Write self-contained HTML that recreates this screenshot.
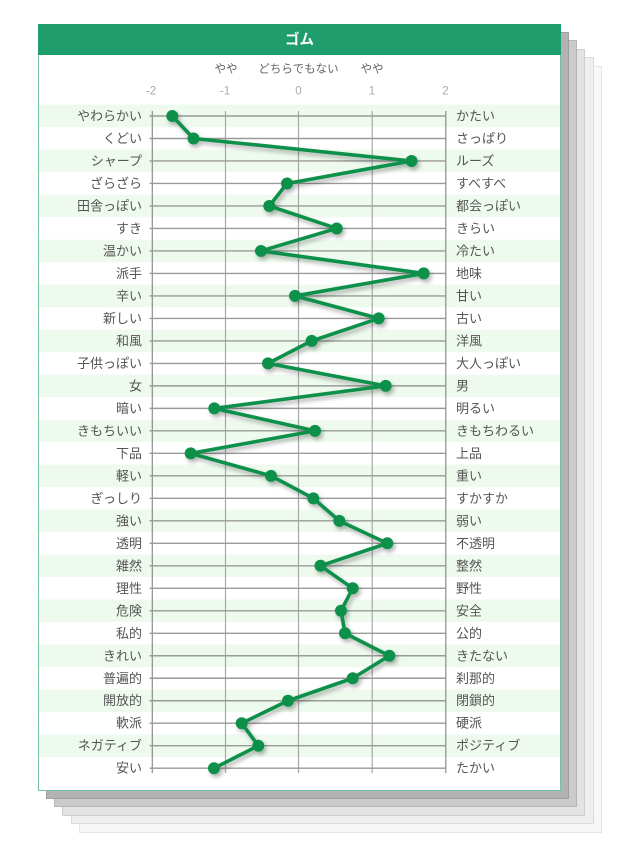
<!DOCTYPE html>
<html><head><meta charset="utf-8"><style>
html,body{margin:0;padding:0;background:#fff;}
svg{display:block;}
text{font-family:"Liberation Sans","Noto Sans CJK JP",sans-serif;}
</style></head><body>
<svg width="640" height="853" viewBox="0 0 640 853" xmlns="http://www.w3.org/2000/svg">
<defs>
<filter id="sh" x="-20%" y="-20%" width="140%" height="140%">
<feDropShadow dx="2" dy="3" stdDeviation="2" flood-color="#000" flood-opacity="0.3"/>
</filter>
</defs>
<rect x="79.5" y="66.5" width="522" height="766" fill="#f7f7f7" stroke="#e6e6e6"/>
<rect x="71.5" y="57.5" width="522" height="766" fill="#efefef" stroke="#dcdcdc"/>
<rect x="62.5" y="49.5" width="522" height="766" fill="#e3e3e3" stroke="#cfcfcf"/>
<rect x="54.5" y="40.5" width="522" height="766" fill="#cbcbcb" stroke="#b5b5b5"/>
<rect x="46.5" y="32.5" width="522" height="766" fill="#b2b2b2" stroke="#9e9e9e"/>
<rect x="38.5" y="24.5" width="522" height="766" fill="#fff" stroke="#72c2a3"/>
<rect x="38" y="24" width="523" height="31" fill="#1f9d6c"/>
<text x="299.5" y="44.5" font-size="14.5" font-weight="bold" fill="#fff" text-anchor="middle">ゴム</text>
<g font-size="11.5" fill="#666" text-anchor="middle">
<text x="226" y="72.5">やや</text>
<text x="298.5" y="72.5">どちらでもない</text>
<text x="372" y="72.5">やや</text>
</g>
<g font-size="11.5" fill="#aaa" text-anchor="middle">
<text x="151" y="94.5">-2</text>
<text x="225" y="94.5">-1</text>
<text x="298.5" y="94.5">0</text>
<text x="372" y="94.5">1</text>
<text x="445.5" y="94.5">2</text>
</g>
<g id="bands" fill="#eefaee"></g>
<g id="grid"></g>
<g id="labels" font-size="13" fill="#555"></g>
<g id="series" filter="url(#sh)"></g>
</svg>
<script>
(function(){
var ns="http://www.w3.org/2000/svg";
var L=["やわらかい","くどい","シャープ","ざらざら","田舎っぽい","すき","温かい","派手","辛い","新しい","和風","子供っぽい","女","暗い","きもちいい","下品","軽い","ぎっしり","強い","透明","雑然","理性","危険","私的","きれい","普遍的","開放的","軟派","ネガティブ","安い"];
var R=["かたい","さっぱり","ルーズ","すべすべ","都会っぽい","きらい","冷たい","地味","甘い","古い","洋風","大人っぽい","男","明るい","きもちわるい","上品","重い","すかすか","弱い","不透明","整然","野性","安全","公的","きたない","刹那的","閉鎖的","硬派","ポジティブ","たかい"];
var X=[172.3,193.5,411.5,287,269.3,336.7,261,423.7,295,378.7,311.7,268,385.7,214.3,315,190.7,271,313.3,339.3,387.3,320.5,352.7,341,345,389.3,352.7,288,241.7,258.3,214];
function el(t,a,p,txt){var e=document.createElementNS(ns,t);for(var k in a)e.setAttribute(k,a[k]);if(txt)e.textContent=txt;document.getElementById(p).appendChild(e);return e;}
var y0=116,dy=22.49;
for(var i=0;i<30;i++){
 var y=y0+i*dy;
 if(i%2==0) el("rect",{x:39,y:(y-dy/2).toFixed(2),width:521,height:dy.toFixed(2)},"bands");
}
var gx=[152.3,225.5,298.5,372.2,445.8];
for(var j=0;j<5;j++){
 el("line",{x1:gx[j],y1:111,x2:gx[j],y2:773,stroke:(j==0||j==4)?"#8c8c8c":"#a8a8a8","stroke-width":1.2},"grid");
}
for(var i=0;i<30;i++){
 var y=y0+i*dy;
 el("line",{x1:149.5,y1:y.toFixed(2),x2:446.5,y2:y.toFixed(2),stroke:"#9a9a9a","stroke-width":1.4},"grid");
 el("text",{x:142,y:(y+4.5).toFixed(2),"text-anchor":"end"},"labels",L[i]);
 el("text",{x:456,y:(y+4.5).toFixed(2)},"labels",R[i]);
}
var pts=X.map(function(x,i){return x+","+(y0+i*dy).toFixed(2);}).join(" ");
el("polyline",{points:pts,fill:"none",stroke:"#10904a","stroke-width":3.6,"stroke-linejoin":"round"},"series");
for(var i=0;i<30;i++){
 el("circle",{cx:X[i],cy:(y0+i*dy).toFixed(2),r:6,fill:"#10904a"},"series");
}
})();
</script>
</body></html>
